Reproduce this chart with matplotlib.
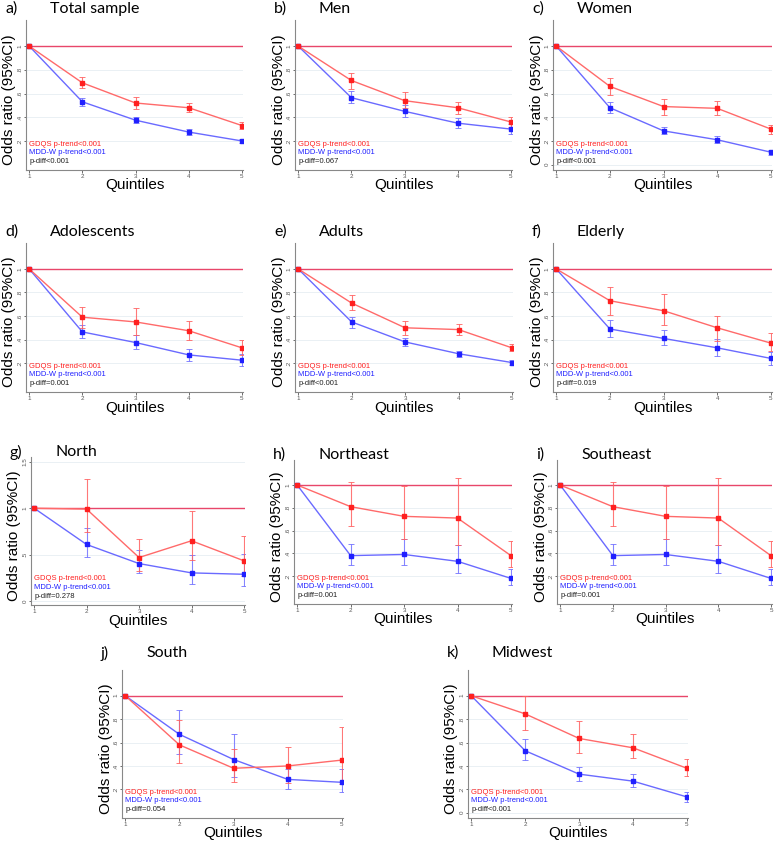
import matplotlib
matplotlib.use("Agg")
import matplotlib.pyplot as plt
import numpy as np

# ---- data ----
quintiles = [1, 2, 3, 4, 5]
letters = ["a)", "b)", "c)", "d)", "e)", "f)", "g)", "h)", "i)", "j)", "k)"]
titles = ["Total sample", "Men", "Women", "Adolescents", "Adults", "Elderly",
          "North", "Northeast", "Southeast", "South", "Midwest"]
p_diff = ["p-diff<0.001", "p-diff=0.067", "p-diff<0.001", "p-diff=0.001", "p-diff<0.001",
          "p-diff=0.019", "p-diff=0.278", "p-diff=0.001", "p-diff=0.001", "p-diff=0.054",
          "p-diff<0.001"]

gdqs_or = [[1, .69, .52, .48, .33], [1, .71, .54, .48, .36], [1, .66, .49, .475, .30],
           [1, .59, .55, .475, .33], [1, .71, .50, .485, .33], [1, .73, .645, .50, .37],
           [1, .99, .47, .65, .435], [1, .81, .725, .71, .38], [1, .81, .725, .71, .38],
           [1, .58, .38, .40, .45], [1, .845, .635, .555, .38]]
gdqs_lo = [[1, .65, .47, .445, .30], [1, .64, .48, .43, .32], [1, .59, .42, .415, .26],
           [1, .50, .435, .40, .265], [1, .655, .44, .44, .30], [1, .605, .52, .39, .30],
           [1, .74, .32, .44, .27], [1, .64, .53, .475, .28], [1, .64, .53, .475, .28],
           [1, .425, .26, .25, .245], [1, .71, .51, .465, .315]]
gdqs_hi = [[1, .74, .57, .52, .36], [1, .77, .61, .53, .40], [1, .735, .555, .535, .335],
           [1, .68, .67, .555, .40], [1, .775, .555, .53, .365], [1, .845, .79, .60, .455],
           [1, 1.31, .67, .97, .70], [1, 1.03, .99, 1.065, .505], [1, 1.03, .99, 1.065, .505],
           [1, .79, .545, .56, .73], [1, 1.0, .785, .675, .46]]

mddw_or = [[1, .53, .375, .275, .20], [1, .565, .45, .35, .30], [1, .48, .285, .21, .105],
           [1, .465, .375, .27, .225], [1, .55, .38, .28, .205], [1, .49, .41, .33, .24],
           [1, .61, .405, .305, .29], [1, .38, .39, .33, .18], [1, .38, .39, .33, .18],
           [1, .67, .455, .285, .26], [1, .53, .33, .27, .135]]
mddw_lo = [[1, .495, .35, .25, .18], [1, .52, .405, .31, .26], [1, .435, .255, .18, .085],
           [1, .41, .32, .215, .175], [1, .50, .345, .25, .18], [1, .42, .35, .26, .18],
           [1, .475, .305, .19, .165], [1, .30, .295, .225, .12], [1, .30, .295, .225, .12],
           [1, .505, .305, .20, .18], [1, .455, .27, .22, .095]]
mddw_hi = [[1, .565, .40, .30, .22], [1, .62, .505, .39, .345], [1, .525, .315, .24, .125],
           [1, .525, .435, .32, .28], [1, .595, .41, .305, .225], [1, .57, .485, .405, .295],
           [1, .79, .55, .495, .505], [1, .485, .53, .47, .265], [1, .485, .53, .47, .265],
           [1, .88, .67, .375, .37], [1, .63, .395, .335, .18]]

yticks = [[.2, .4, .6, .8, 1]] * 2 + [[0, .2, .4, .6, .8, 1]] + [[.2, .4, .6, .8, 1]] * 3 + \
         [[0, .5, 1, 1.5]] + [[.2, .4, .6, .8, 1]] * 3 + [[0, .2, .4, .6, .8, 1]]

# ---- layout in pixels: left, top, right, bottom ----
W, H = 777, 843
boxes = [(26, 20, 243, 170), (295, 20, 512, 170), (553, 20, 772, 170),
         (26, 243, 243, 392), (295, 243, 513, 392), (553, 243, 772, 392),
         (31, 457, 245, 605), (294, 460, 512, 604), (557, 460, 772, 604),
         (122, 670, 343, 818), (468, 670, 688, 818)]

RED, BLUE = "#ff2020", "#2020ff"
RED_LINE, BLUE_LINE = "#ff6a6a", "#6a6aff"
REF = "#e8466a"
SANS = ["Liberation Sans", "DejaVu Sans"]
TITLEF = ["Lato", "DejaVu Sans"]

fig = plt.figure(figsize=(W / 100, H / 100), dpi=100)


def fmt(v):
    s = f"{v:g}"
    return s[1:] if s.startswith("0.") else s


for i in range(11):
    l, t, r, b = boxes[i]
    wpx, hpx = r - l, b - t
    ax = fig.add_axes([l / W, 1 - b / H, wpx / W, hpx / H])
    x = np.array(quintiles)

    g, glo, ghi = map(np.array, (gdqs_or[i], gdqs_lo[i], gdqs_hi[i]))
    m, mlo, mhi = map(np.array, (mddw_or[i], mddw_lo[i], mddw_hi[i]))

    for yt in yticks[i]:
        ax.axhline(yt, color="#e6eef3", lw=0.6, zorder=0)
    ax.axhline(1, color=REF, lw=1.0, zorder=1)

    ax.errorbar(x[1:], m[1:], yerr=[m[1:] - mlo[1:], mhi[1:] - m[1:]], fmt="none",
                ecolor="#7070ff", elinewidth=0.8, capsize=2.2, capthick=0.7, alpha=0.85, zorder=2)
    ax.errorbar(x[1:], g[1:], yerr=[g[1:] - glo[1:], ghi[1:] - g[1:]], fmt="none",
                ecolor="#ff6060", elinewidth=0.8, capsize=2.2, capthick=0.7, alpha=0.85, zorder=2)
    ax.plot(x, m, color=BLUE_LINE, lw=1.0, marker="s", ms=3, mfc=BLUE, mec=BLUE, zorder=3)
    ax.plot(x, g, color=RED_LINE, lw=1.0, marker="s", ms=3, mfc=RED, mec=RED, zorder=4)

    ax.set_xlim(0.94, 5.02)
    ax.set_ylim((-0.04, 1.55) if i == 6 else (-0.045, 1.22))
    ax.set_xticks(quintiles)
    ax.set_xticklabels([str(q) for q in quintiles], fontsize=4.5, family=SANS)
    ax.set_yticks(yticks[i])
    ax.set_yticklabels([fmt(v) for v in yticks[i]], fontsize=4.5, family=SANS,
                       rotation=90, va="center")
    ax.tick_params(length=1.8, width=0.6, colors="#555555", pad=0.8)
    for side in ("top", "right"):
        ax.spines[side].set_visible(False)
    for side in ("left", "bottom"):
        ax.spines[side].set_color("#888888")
        ax.spines[side].set_linewidth(0.8)

    ax.set_ylabel("Odds ratio (95%CI)", fontsize=11, family=SANS)
    ax.yaxis.set_label_coords(-9.5 / wpx, 0.47)
    ax.set_xlabel("Quintiles", fontsize=11, family=SANS)
    ax.xaxis.set_label_coords(0.5, -8.5 / hpx)

    ax.text(0.015, 26 / hpx, "GDQS p-trend<0.001", color=RED, fontsize=5.5,
            family=SANS, transform=ax.transAxes, va="center")
    ax.text(0.015, 17.3 / hpx, "MDD-W p-trend<0.001", color=BLUE, fontsize=5.5,
            family=SANS, transform=ax.transAxes, va="center")
    ax.text(0.015, 8.5 / hpx, p_diff[i], color="#222222", fontsize=5.5,
            family=SANS, transform=ax.transAxes, va="center")

    ty = 1 - (t - 11) / H if i < 6 else 1 - (t - 5) / H
    if i >= 9:
        ty = 1 - (t - 17) / H
    fig.text((l - 21) / W, ty, letters[i], fontsize=11.5, family=TITLEF, va="center")
    fig.text((l + 24) / W, ty, titles[i], fontsize=11.5, family=TITLEF, va="center")

fig.savefig("out.png", dpi=100)
